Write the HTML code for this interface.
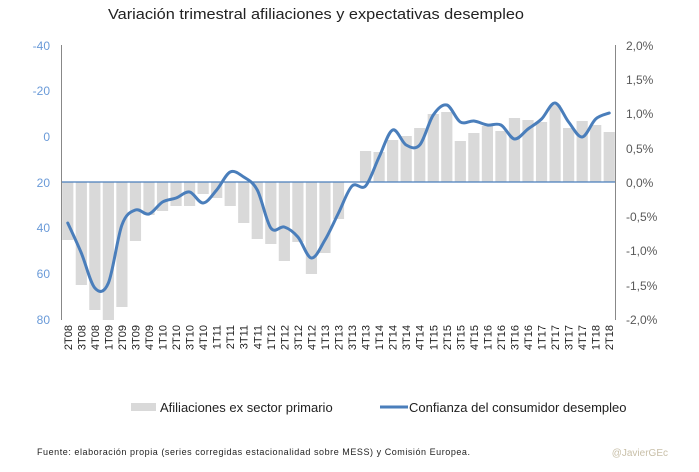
<!DOCTYPE html>
<html><head><meta charset="utf-8"><style>
html,body{margin:0;padding:0;background:#fff;}
svg{display:block;font-family:"Liberation Sans",sans-serif;}
</style></head><body>
<svg width="699" height="472" viewBox="0 0 699 472" xmlns="http://www.w3.org/2000/svg">
<text x="316" y="19" text-anchor="middle" font-size="15" fill="#222" textLength="416" lengthAdjust="spacingAndGlyphs">Variación trimestral afiliaciones y expectativas desempleo</text>
<g id="bars" fill="#d9d9d9"></g>
<line x1="61" y1="182" x2="616" y2="182" stroke="#4a7ebb" stroke-width="1.2"/>
<line x1="61.5" y1="45" x2="61.5" y2="320" stroke="#888" stroke-width="1"/>
<line x1="615.5" y1="45" x2="615.5" y2="320" stroke="#888" stroke-width="1"/>
<g font-size="12" fill="#6a9ad8" text-anchor="end">
<text x="50" y="50">-40</text><text x="50" y="95">-20</text><text x="50" y="141">0</text>
<text x="50" y="187">20</text><text x="50" y="232">40</text><text x="50" y="278">60</text><text x="50" y="324">80</text>
</g>
<g font-size="12" fill="#595959" text-anchor="start">
<text x="626" y="50">2,0%</text><text x="626" y="84">1,5%</text><text x="626" y="118">1,0%</text>
<text x="626" y="153">0,5%</text><text x="626" y="187">0,0%</text><text x="626" y="221">-0,5%</text>
<text x="626" y="255">-1,0%</text><text x="626" y="290">-1,5%</text><text x="626" y="324">-2,0%</text>
</g>
<path id="ln" fill="none" stroke="#4a7ebb" stroke-width="3" stroke-linejoin="round" stroke-linecap="round"/>
<g id="lbl" font-size="11" fill="#222"></g>
<rect x="131" y="403" width="25" height="8" fill="#d9d9d9"/>
<text x="160" y="412" font-size="13" fill="#222">Afiliaciones ex sector primario</text>
<line x1="380" y1="407" x2="408" y2="407" stroke="#4a7ebb" stroke-width="3"/>
<text x="409" y="412" font-size="13" fill="#222">Confianza del consumidor desempleo</text>
<text x="37" y="455" font-size="9" fill="#222" textLength="433" lengthAdjust="spacing">Fuente: elaboración propia (series corregidas estacionalidad sobre MESS) y Comisión Europea.</text>
<text x="668" y="456" font-size="10" fill="#c8bfa8" text-anchor="end">@JavierGEc</text>
</svg>
<script>
var bars=[240,285,310,320,307,241,215,211,206,206,194,198,206,223,239,244,261,242,274,253,219,182,151,152,140,136,128,114,112,141,133,126,131,118,120,122,105,128,121,125,132];
var line=[223,253,288,283,225,210,214,202,198,192,203,190,172,177,190,228,227,237,258,240,213,186,186,157,130,145,145,115,105,122,121,125,125,139,129,119,103,122,137,119,113];
var labels=[];var yrs=['08','09','10','11','12','13','14','15','16','17','18'];
for(var y=0;y<yrs.length;y++)for(var q=1;q<=4;q++){var s=q+'T'+yrs[y];labels.push(s);}
labels=labels.slice(1,42);
var x0=61,st=555/41,g=document.getElementById('bars'),L=document.getElementById('lbl'),ns='http://www.w3.org/2000/svg';
var pts=[];
for(var i=0;i<41;i++){var cx=x0+st*(i+0.5);var b=bars[i];var r=document.createElementNS(ns,'rect');
r.setAttribute('x',cx-5.6);r.setAttribute('width',11.2);r.setAttribute('y',Math.min(b,182));r.setAttribute('height',Math.abs(b-182));g.appendChild(r);
pts.push([cx,line[i]]);
var t=document.createElementNS(ns,'text');t.setAttribute('transform','translate('+(cx+4)+',325) rotate(-90)');t.setAttribute('text-anchor','end');t.textContent=labels[i];L.appendChild(t);}
var d='M'+pts[0][0]+','+pts[0][1];
for(var i=0;i<pts.length-1;i++){var p0=pts[Math.max(0,i-1)],p1=pts[i],p2=pts[i+1],p3=pts[Math.min(pts.length-1,i+2)];
d+=' C'+(p1[0]+(p2[0]-p0[0])/6)+','+(p1[1]+(p2[1]-p0[1])/6)+' '+(p2[0]-(p3[0]-p1[0])/6)+','+(p2[1]-(p3[1]-p1[1])/6)+' '+p2[0]+','+p2[1];}
document.getElementById('ln').setAttribute('d',d);
</script>
</body></html>
